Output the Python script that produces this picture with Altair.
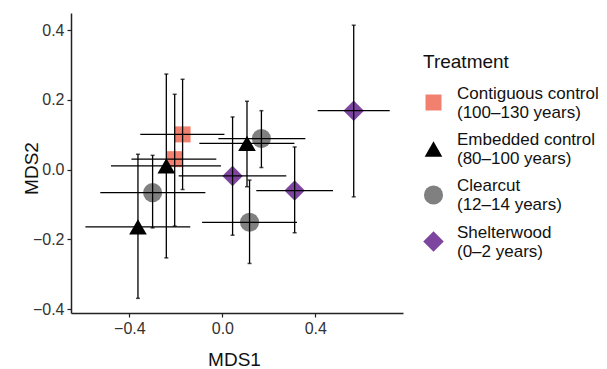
import altair as alt
import pandas as pd

groups = (["Contiguous control\n(100–130 years)"] * 2
          + ["Embedded control\n(80–100 years)"] * 3
          + ["Clearcut\n(12–14 years)"] * 3
          + ["Shelterwood\n(0–2 years)"] * 3)
mds1 = [-0.171, -0.205, -0.241, -0.363, 0.106, -0.300, 0.168, 0.117, 0.044, 0.311, 0.565]
mds2 = [0.101, 0.030, 0.011, -0.164, 0.075, -0.066, 0.089, -0.151, -0.018, -0.060, 0.169]
mds1_lo = [-0.353, -0.391, -0.479, -0.589, -0.099, -0.525, -0.017, -0.087, -0.188, 0.146, 0.410]
mds1_hi = [0.009, -0.026, -0.006, -0.138, 0.310, -0.073, 0.357, 0.321, 0.275, 0.476, 0.720]
mds2_lo = [-0.057, -0.162, -0.253, -0.369, -0.049, -0.167, 0.006, -0.269, -0.188, -0.181, -0.078]
mds2_hi = [0.259, 0.216, 0.274, 0.044, 0.196, 0.041, 0.169, -0.030, 0.151, 0.065, 0.414]

order = ["Contiguous control\n(100–130 years)", "Embedded control\n(80–100 years)",
         "Clearcut\n(12–14 years)", "Shelterwood\n(0–2 years)"]
colors = ["#F2806F", "#000000", "#808080", "#7D45A0"]
shapes = ["square", "triangle-up", "circle", "diamond"]
sizes = [256, 420, 196, 196]

x_ticks = [-0.4, 0.0, 0.4]
y_ticks = [-0.4, -0.2, 0.0, 0.2, 0.4]

df = pd.DataFrame({"Treatment": groups, "MDS1": mds1, "MDS2": mds2,
                   "xlo": mds1_lo, "xhi": mds1_hi, "ylo": mds2_lo, "yhi": mds2_hi})

FONT = "Liberation Sans"
xs = alt.Scale(domain=[-0.651, 0.777], nice=False, zero=False)
ys = alt.Scale(domain=[-0.411, 0.449], nice=False, zero=False)

xax = alt.Axis(values=x_ticks, format=".1f", grid=False, title="MDS1",
               titleX=163, titleY=52, titleBaseline="alphabetic")
yax = alt.Axis(values=y_ticks, format=".1f", grid=False, title="MDS2",
               titleX=-40, titleY=155, titleBaseline="middle", titleAngle=270)

base = alt.Chart(df)

legend = alt.Legend(orient="none", legendX=352, legendY=40, title="Treatment",
                    labelExpr="split(datum.label, '\\n')", rowPadding=10,
                    labelOffset=13, symbolStrokeWidth=0, labelBaseline="bottom",
                    titlePadding=22)

points = base.mark_point(filled=True, opacity=1).encode(
    x=alt.X("MDS1:Q", scale=xs, axis=xax),
    y=alt.Y("MDS2:Q", scale=ys, axis=yax),
    color=alt.Color("Treatment:N", scale=alt.Scale(domain=order, range=colors), legend=legend),
    shape=alt.Shape("Treatment:N", scale=alt.Scale(domain=order, range=shapes), legend=legend),
    size=alt.Size("Treatment:N", scale=alt.Scale(domain=order, range=sizes), legend=legend),
)

vbars = base.mark_rule(color="black", strokeWidth=1.3).encode(
    x="MDS1:Q", y="ylo:Q", y2="yhi:Q")
hbars = base.mark_rule(color="black", strokeWidth=1.3).encode(
    y="MDS2:Q", x="xlo:Q", x2="xhi:Q")
cap_lo = base.mark_tick(color="black", orient="horizontal", size=4, thickness=1.5).encode(
    x="MDS1:Q", y="ylo:Q")
cap_hi = base.mark_tick(color="black", orient="horizontal", size=4, thickness=1.5).encode(
    x="MDS1:Q", y="yhi:Q")

chart = alt.layer(points, vbars, hbars, cap_lo, cap_hi).properties(
    width=332, height=300,
    autosize=alt.AutoSizeParams(type="none"),
    padding={"left": 63, "top": 5, "right": 196, "bottom": 56},
).configure_view(stroke=None).configure_axis(
    domainColor="#222222", domainWidth=1.5, tickColor="#222222", tickWidth=1.2,
    tickSize=4, labelFont=FONT, labelFontSize=16, labelColor="#333333",
    labelPadding=3, titleFont=FONT, titleFontSize=19, titleFontWeight="normal",
    titleColor="#111111",
).configure_legend(
    titleFont=FONT, titleFontSize=19, titleFontWeight="normal", titleColor="#111111",
    labelFont=FONT, labelFontSize=17, labelColor="#111111",
)

chart.save("out.html", embed_options={"renderer": "svg", "actions": False})
